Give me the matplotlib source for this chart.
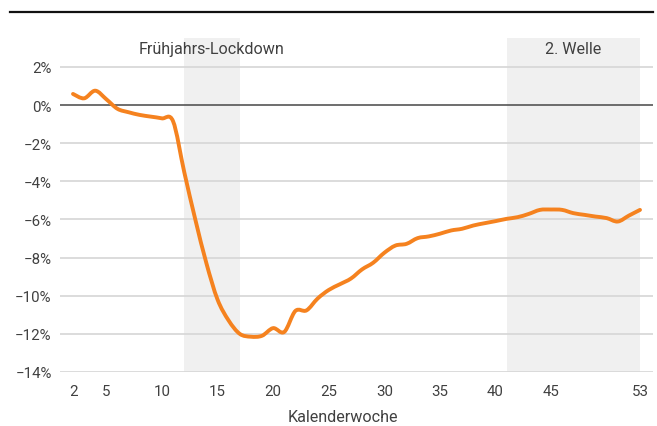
import matplotlib
matplotlib.use("Agg")
import matplotlib.pyplot as plt
from matplotlib.lines import Line2D
from matplotlib.path import Path
from matplotlib.patches import PathPatch
from matplotlib import font_manager

plt.rcParams['font.family'] = ['Roboto', 'DejaVu Sans']

weeks = list(range(2, 54))
values = [0.58, 0.35, 0.75, 0.30, -0.20, -0.38, -0.52, -0.61, -0.70, -0.85,
          -3.5, -6.0, -8.3, -10.2, -11.3, -12.0, -12.15, -12.1, -11.7, -11.9,
          -10.8, -10.77, -10.15, -9.7, -9.4, -9.1, -8.62, -8.27, -7.75, -7.37,
          -7.28, -6.98, -6.89, -6.75, -6.58, -6.49, -6.32, -6.2, -6.09, -5.97,
          -5.88, -5.71, -5.5, -5.48, -5.5, -5.67, -5.76, -5.85, -5.93, -6.11,
          -5.8, -5.5]
xticks = [2, 5, 10, 15, 20, 25, 30, 35, 40, 45, 53]
yticks = [2, 0, -2, -4, -6, -8, -10, -12, -14]
ytick_labels = ["2%", "0%", "\u22122%", "\u22124%", "\u22126%", "\u22128%",
                "\u221210%", "\u221212%", "\u221214%"]
shades = [(12, 17, "Frühjahrs-Lockdown"), (41, 53, "2. Welle")]
xlabel = "Kalenderwoche"

weight = "light"
try:
    fp = font_manager.findfont(font_manager.FontProperties(family="Roboto", weight="light"),
                               fallback_to_default=False)
    if "Light" not in fp:
        weight = "normal"
except Exception:
    weight = "normal"

txtc = "#404040"
W, H = 657, 427
fig = plt.figure(figsize=(W / 100, H / 100), dpi=100)
left, right = 60, 653
top, bottom = 39, 373
ax = fig.add_axes([left / W, 1 - bottom / H, (right - left) / W, (bottom - top) / H])

ppw = (640 - 73) / 51.0
x0 = 2 - (73 - left) / ppw
x1 = 53 + (right - 640) / ppw
ppp = (373 - 106) / 14.0
y1 = (106 - top) / ppp
ax.set_xlim(x0, x1)
ax.set_ylim(-14, y1)

for s, e, label in shades:
    ax.axvspan(s, e, color="#f0f0f0", lw=0, zorder=0)
    ax.text((s + e) / 2.0, 2.95, label, ha="center", va="center", fontsize=11.6,
            color=txtc, fontweight=weight)

for yv in yticks:
    if yv == 0:
        ax.axhline(0, color="#555555", lw=1.2, zorder=1)
    else:
        ax.axhline(yv, color="#d6d6d6", lw=1.2, zorder=1)

# smooth curve through the data points (Catmull-Rom as cubic Bezier segments)
verts = [(weeks[0], values[0])]
codes = [Path.MOVETO]
n = len(weeks)
for i in range(n - 1):
    p0 = (weeks[max(i - 1, 0)], values[max(i - 1, 0)])
    p1 = (weeks[i], values[i])
    p2 = (weeks[i + 1], values[i + 1])
    p3 = (weeks[min(i + 2, n - 1)], values[min(i + 2, n - 1)])
    c1 = (p1[0] + (p2[0] - p0[0]) / 6.0, p1[1] + (p2[1] - p0[1]) / 6.0)
    c2 = (p2[0] - (p3[0] - p1[0]) / 6.0, p2[1] - (p3[1] - p1[1]) / 6.0)
    verts += [c1, c2, p2]
    codes += [Path.CURVE4] * 3
ax.add_patch(PathPatch(Path(verts, codes), facecolor="none", edgecolor="#f5821f",
                       lw=2.8, capstyle="round", joinstyle="round", zorder=3))

for sp in ax.spines.values():
    sp.set_visible(False)
ax.set_xticks(xticks)
ax.set_xticklabels([str(v) for v in xticks], fontweight=weight)
ax.set_yticks(yticks)
ax.set_yticklabels(ytick_labels, fontweight=weight)
ax.tick_params(length=0, labelsize=10.8, labelcolor=txtc)
ax.tick_params(axis="x", pad=9)
ax.tick_params(axis="y", pad=6)
ax.set_xlabel(xlabel, fontsize=11.6, color=txtc, fontweight=weight)
ax.xaxis.set_label_coords((343 - left) / (right - left), -(410 - bottom) / (bottom - top))

fig.add_artist(Line2D([10 / W, 653 / W], [1 - 13 / H, 1 - 13 / H],
                      color="#111111", lw=1.6, transform=fig.transFigure))

fig.savefig("out.png", dpi=100)
